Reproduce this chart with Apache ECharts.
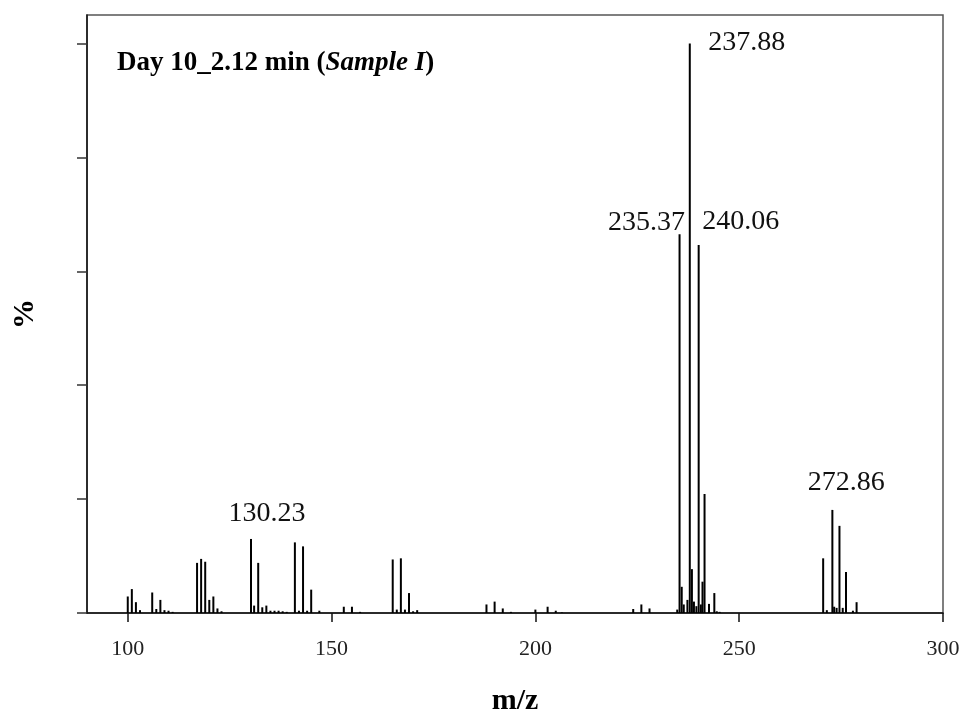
<!DOCTYPE html>
<html>
<head>
<meta charset="utf-8">
<script src="https://cdn.jsdelivr.net/npm/echarts@6/dist/echarts.min.js"></script>
<style>
html,body{margin:0;padding:0;background:#fff;}
#chart{width:966px;height:721px;}
</style>
</head>
<body>
<div id="chart"></div>
<script>
// m/z positions of the peaks
var mzValues = [100, 101, 102, 103, 106, 107, 108, 109, 110, 111,
  117, 118, 119, 120, 121, 122, 123,
  130.23, 131, 132, 133, 134, 135, 136, 137, 138, 139,
  141, 142, 143, 144, 145, 147, 153, 155, 157,
  165, 166, 167, 168, 169, 170, 171,
  188, 190, 192, 194, 200, 203, 205, 206.5,
  224, 226, 228,
  234.8, 235.37, 235.9, 236.4, 237.3, 237.88, 238.4, 238.9, 239.5, 240.06, 240.6, 241.0, 241.5, 242.6, 243.9, 244.5, 245.2,
  270.6, 271.5, 272.86, 273.3, 273.9, 274.6, 275.4, 276.2, 277.9, 278.8];
// relative intensities (%)
var intensities = [2.9, 4.2, 1.9, 0.5, 3.6, 0.7, 2.3, 0.5, 0.4, 0.2,
  8.8, 9.5, 9.0, 2.3, 2.9, 0.8, 0.3,
  13.0, 1.3, 8.8, 1.0, 1.3, 0.4, 0.4, 0.4, 0.3, 0.2,
  12.4, 0.4, 11.7, 0.4, 4.1, 0.4, 1.1, 1.1, 0.2,
  9.4, 0.6, 9.6, 0.6, 3.5, 0.3, 0.5,
  1.5, 2.0, 0.8, 0.2, 0.6, 1.1, 0.4, 0.1,
  0.7, 1.5, 0.8,
  0.6, 66.5, 4.6, 1.5, 2.3, 100, 7.7, 2.0, 1.2, 64.6, 1.5, 5.5, 20.9, 1.6, 3.5, 0.3, 0.2,
  9.6, 0.5, 18.1, 1.1, 0.9, 15.3, 0.9, 7.2, 0.4, 1.9];
// annotated peaks
var labelledMz = [130.23, 235.37, 237.88, 240.06, 272.86];
// axis ticks
var xTicks = [100, 150, 200, 250, 300];
var yTicks = [0, 20, 40, 60, 80, 100];

var SERIF = '"Liberation Serif", "Times New Roman", serif';

var peakData = mzValues.map(function (m, i) { return [m, intensities[i]]; });
var labelOffsets = {
  '130.23': [16, -25],
  '235.37': [-33, -12],
  '237.88': [57, -1],
  '240.06': [42, -23],
  '272.86': [14, -27]
};
var labelData = labelledMz.map(function (m) {
  var idx = mzValues.indexOf(m);
  return {
    value: [m, intensities[idx]],
    label: { offset: labelOffsets[m.toFixed(2)] }
  };
});

var chart = echarts.init(document.getElementById('chart'), null, { renderer: 'canvas' });
chart.setOption({
  animation: false,
  backgroundColor: '#fff',
  title: {
    left: 117,
    top: 50,
    padding: 0,
    text: '{b|Day 10_2.12 min (}{i|Sample I}{b|)}',
    textStyle: {
      rich: {
        b: { fontFamily: SERIF, fontWeight: 'bold', fontSize: 27, color: '#000' },
        i: { fontFamily: SERIF, fontWeight: 'bold', fontStyle: 'italic', fontSize: 27, color: '#000' }
      }
    }
  },
  grid: {
    left: 87, right: 23, top: 15, bottom: 108,
    show: true, borderColor: '#555', borderWidth: 1.5, backgroundColor: 'transparent'
  },
  xAxis: {
    type: 'value',
    min: 90, max: 300,
    name: 'm/z',
    nameLocation: 'middle',
    nameGap: 73,
    nameTextStyle: { fontFamily: SERIF, fontWeight: 'bold', fontSize: 30, color: '#000' },
    axisLine: { show: true, onZero: false, lineStyle: { color: '#111', width: 1.5 } },
    axisTick: { show: true, inside: false, length: 9, customValues: xTicks, lineStyle: { color: '#111', width: 1.5 } },
    axisLabel: { show: true, margin: 25, customValues: xTicks, fontFamily: SERIF, fontSize: 22, color: '#222' },
    splitLine: { show: false }
  },
  yAxis: {
    type: 'value',
    min: 0, max: 105,
    name: '%',
    nameLocation: 'middle',
    nameRotate: 90,
    nameGap: 47,
    nameTextStyle: { fontFamily: SERIF, fontWeight: 'bold', fontSize: 30, color: '#000' },
    axisLine: { show: true, lineStyle: { color: '#111', width: 1.5 } },
    axisTick: { show: true, inside: false, length: 10, customValues: yTicks, lineStyle: { color: '#333', width: 1.5 } },
    axisLabel: { show: false },
    splitLine: { show: false }
  },
  series: [
    {
      type: 'bar',
      data: peakData,
      barWidth: 2,
      itemStyle: { color: '#000' },
      silent: true
    },
    {
      type: 'scatter',
      data: labelData,
      symbolSize: 0,
      silent: true,
      z: 5,
      itemStyle: { opacity: 1, color: '#000' },
      label: {
        show: true,
        position: 'inside',
        formatter: function (p) { return p.value[0].toFixed(2); },
        fontFamily: SERIF,
        fontSize: 28,
        color: '#111',
        opacity: 1,
        textBorderWidth: 0,
        textBorderColor: 'transparent'
      }
    }
  ]
});
</script>
</body>
</html>
